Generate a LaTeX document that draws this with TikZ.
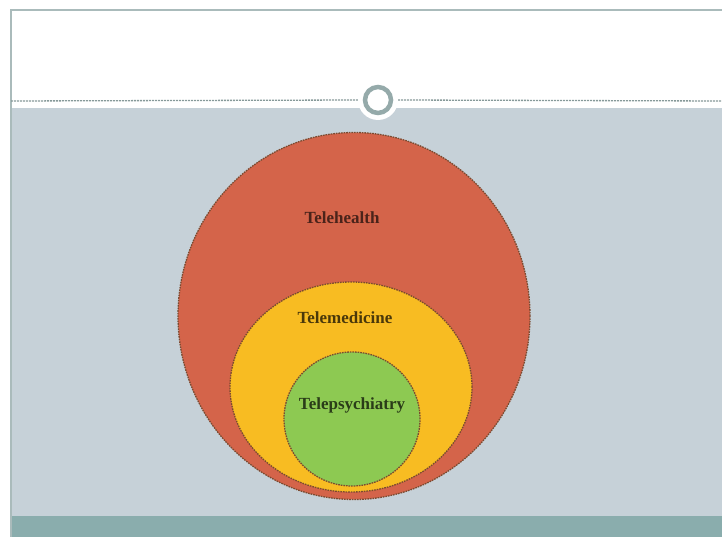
\documentclass[tikz,border=0pt]{standalone}
\usepackage{fontspec}
\setmainfont{Liberation Serif}
\usetikzlibrary{shapes.geometric}
\definecolor{slidebg}{HTML}{C6D1D8}
\definecolor{bandteal}{HTML}{8AADAD}
\definecolor{ringgray}{HTML}{95AAAA}
\definecolor{healthred}{HTML}{D4644A}
\definecolor{medyellow}{HTML}{F8BC22}
\definecolor{psygreen}{HTML}{8DC952}
\definecolor{edgebrown}{HTML}{7A4A30}
\tikzset{
    zone/.style={ellipse,draw=edgebrown,dashed,dash pattern=on 1.6pt off 1pt,line width=1.3pt,inner sep=0pt},
    zonelabel/.style={font=\bfseries\fontsize{17}{20}\selectfont}
}

\begin{document}
\begin{tikzpicture}[x=1pt,y=-1pt]
    \useasboundingbox (0,0) rectangle (722,537);
    \fill[white] (0,0) rectangle (722,537);
    \fill[slidebg] (11,108) rectangle (722,516);
    \fill[bandteal] (11,516) rectangle (722,537);
    \draw[ringgray!80,line width=1.5pt] (11,537) -- (11,10) -- (722,10);
    \coordinate (ll) at (11,101);
    \coordinate (rr) at (722,101);
    \node[circle,fill=white,minimum size=40pt,inner sep=0pt] (halo) at (378,100) {};
    \node[circle,draw=ringgray,line width=4.5pt,minimum size=26pt,inner sep=0pt] (knob) at (378,100) {};
    \draw[ringgray!90!black,dashed,dash pattern=on 2pt off 1pt,line width=1.3pt] (ll) -- (halo.west);
    \draw[ringgray!90!black,dashed,dash pattern=on 2pt off 1pt,line width=1.3pt] (halo.east) -- (rr);
    \node[zone,fill=healthred,minimum width=352pt,minimum height=367pt] (health) at (354,316) {};
    \node[zone,fill=medyellow,minimum width=242pt,minimum height=210pt] (med) at (351,387) {};
    \node[zone,fill=psygreen,minimum width=136pt,minimum height=134pt] (psy) at (352,419) {};
    \node[zonelabel,text=healthred!35!black] (healthtxt) at (342,218) {Telehealth};
    \node[zonelabel,text=medyellow!30!black] (medtxt) at (345,318) {Telemedicine};
    \node[zonelabel,text=psygreen!30!black] (psytxt) at (352,405) {Telepsychiatry};
\end{tikzpicture}
\end{document}
